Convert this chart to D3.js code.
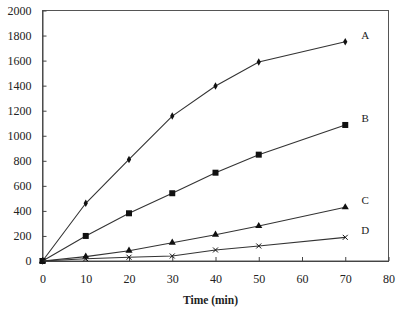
<!DOCTYPE html>
<html>
<head>
<meta charset="utf-8">
<script src="https://cdn.jsdelivr.net/npm/d3@7"></script>
<style>
  body { margin: 0; background: #fff; }
  svg text { font-family: "Liberation Serif", "Times New Roman", serif; fill: #222; }
  .axis path, .axis line { stroke: #444; }
</style>
</head>
<body>
<svg id="chart"></svg>
<script>
const times = [0, 10, 20, 30, 40, 50, 70];
const seriesA = [0, 461, 811, 1157, 1397, 1589, 1751];
const seriesB = [0, 200, 381, 541, 705, 849, 1086];
const seriesC = [0, 35, 82, 146, 210, 279, 429];
const seriesD = [0, 18, 30, 40, 88, 120, 189];
const seriesNames = ["A", "B", "C", "D"];
const xTicks = [0, 10, 20, 30, 40, 50, 60, 70, 80];
const yTicks = [0, 200, 400, 600, 800, 1000, 1200, 1400, 1600, 1800, 2000];

const chartw = 396, charth = 311;
const margin = {top: 10.5, right: 7.5, bottom: 50, left: 42.5};
const w = chartw - margin.left - margin.right;
const h = charth - margin.top - margin.bottom;

const svg = d3.select("#chart").attr("width", chartw).attr("height", charth);
const g = svg.append("g").attr("transform", `translate(${margin.left},${margin.top})`);

const x = d3.scaleLinear().domain([0, 80]).range([0, w]);
const y = d3.scaleLinear().domain([0, 2000]).range([h, 0]);

// frame
g.append("rect").attr("x", 0).attr("y", 0).attr("width", w).attr("height", h)
  .attr("fill", "none").attr("stroke", "#555").attr("stroke-width", 1);

g.append("g").attr("class", "axis").attr("transform", `translate(0,${h})`)
  .call(d3.axisBottom(x).tickValues(xTicks).tickFormat(d3.format("d"))
    .tickSizeInner(-4).tickSizeOuter(0).tickPadding(13))
  .call(a => a.selectAll("text").attr("font-size", 12));
g.append("g").attr("class", "axis")
  .call(d3.axisLeft(y).tickValues(yTicks).tickFormat(d3.format("d"))
    .tickSizeInner(-4).tickSizeOuter(0).tickPadding(11))
  .call(a => a.selectAll("text").attr("font-size", 12));
g.selectAll(".axis text").style("font-family", "Liberation Serif, serif").attr("fill", "#222");

svg.append("text")
  .attr("x", margin.left + w / 2 - 5).attr("y", 304)
  .attr("text-anchor", "middle").attr("font-size", 11.5).attr("font-weight", "bold")
  .text("Time (min)");

const all = [seriesA, seriesB, seriesC, seriesD];
const line = d3.line().x((d, i) => x(times[i])).y(d => y(d));

all.forEach((s, k) => {
  g.append("path").datum(s).attr("fill", "none").attr("stroke", "#333")
    .attr("stroke-width", 1.1).attr("d", line);

  const pts = g.append("g").selectAll("g").data(s).join("g")
    .attr("transform", (d, i) => `translate(${x(times[i])},${y(d)})`);
  if (k === 0) {
    pts.append("path").attr("d", d3.symbol(d3.symbolDiamond, 16)).attr("fill", "#111");
  } else if (k === 1) {
    pts.append("rect").attr("x", -3).attr("y", -3).attr("width", 6).attr("height", 6).attr("fill", "#111");
  } else if (k === 2) {
    pts.append("path").attr("d", d3.symbol(d3.symbolTriangle, 22)).attr("fill", "#111");
  } else {
    pts.append("path").attr("d", d3.symbol(d3.symbolX, 18)).attr("stroke", "#111")
      .attr("stroke-width", 1).attr("fill", "none");
  }

  g.append("text")
    .attr("x", x(times[times.length - 1]) + 20)
    .attr("y", y(s[s.length - 1]) - 3)
    .attr("font-size", 11)
    .attr("text-anchor", "middle")
    .text(seriesNames[k]);
});
</script>
</body>
</html>
